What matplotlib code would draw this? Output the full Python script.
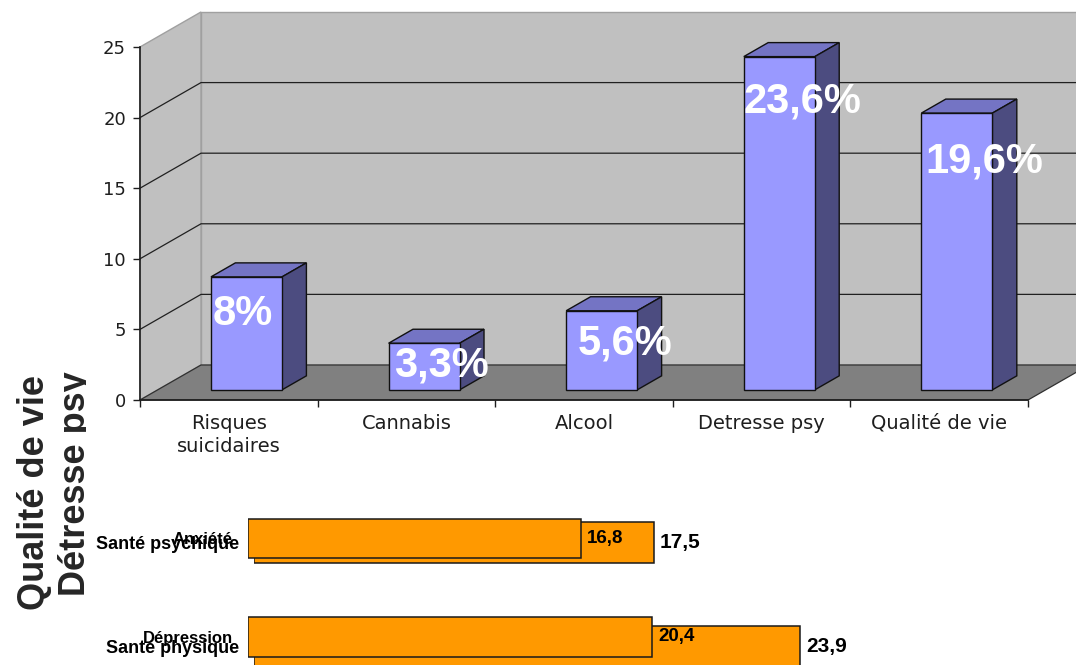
import matplotlib
matplotlib.use("Agg")
import matplotlib.pyplot as plt
from matplotlib.patches import Polygon, Rectangle
from matplotlib.transforms import Bbox

# upper chart: 3D columns
categories = ["Risques\nsuicidaires", "Cannabis", "Alcool", "Detresse psy", "Qualité de vie"]
values = [8, 3.3, 5.6, 23.6, 19.6]
y_ticks = [0, 5, 10, 15, 20, 25]

# lower chart, two overlapping bar layers
front_labels = ["Anxiété", "Dépression"]
front_values = [16.8, 20.4]
back_labels = ["Santé psychique", "Santé physique"]
back_values = [17.5, 23.9]

side_titles = ["Qualité de vie", "Détresse psy"]

W, H = 1076, 665
ARIAL = "Liberation Sans"
INK = "#1e1e1e"

# depth of the 3D box, in data units (x: categories, y: values)
DX, DY = 0.3435, 2.48
BW, Z0, Z1 = 0.4, 0.29, 0.69
# label nudges relative to the column top (category units, value units)
LAB_DX = [0.08, 0.20, 0.23, 0.23, 0.255]
LAB_DY = [-2.69, -1.67, -2.41, -3.27, -3.52]


def box(left, top, width, height):
    return [left / W, 1 - (top + height) / H, width / W, height / H]


def fr(v):
    return f"{v:g}".replace(".", ",")


fig = plt.figure(figsize=(W / 100, H / 100), dpi=100)
fig.patch.set_facecolor("white")

# ---- 3D column chart ----
ax = fig.add_axes(box(140, 47, 888, 353))
n = len(values)
ax.set_xlim(0, n)
ax.set_ylim(0, y_ticks[-1])
ax.set_facecolor("none")
for s in ("top", "right"):
    ax.spines[s].set_visible(False)
for s in ("left", "bottom"):
    ax.spines[s].set_color(INK)
    ax.spines[s].set_linewidth(1.2)
    ax.spines[s].set_zorder(2.5)

top = y_ticks[-1]
ax.add_patch(Rectangle((DX, DY), n, top, fc="#C0C0C0", ec="#A0A0A0", lw=1,
                       clip_on=False, zorder=0.2))
ax.add_patch(Polygon([(0, 0), (0, top), (DX, top + DY), (DX, DY)], closed=True,
                     fc="#C0C0C0", ec="#A0A0A0", lw=1, clip_on=False, zorder=0.3))
ax.add_patch(Polygon([(0, 0), (n, 0), (n + DX, DY), (DX, DY)], closed=True,
                     fc="#808080", ec="#303030", lw=0.9, clip_on=False, zorder=0.4))
for t in y_ticks[1:-1]:
    ax.plot([0, DX, n + DX], [t, t + DY, t + DY], color="#202020", lw=0.9,
            clip_on=False, zorder=1)

for i, v in enumerate(values):
    x0 = i + 0.5 - BW / 2
    x1 = x0 + BW
    ax.add_patch(Polygon([(x0 + Z0 * DX, v + Z0 * DY), (x1 + Z0 * DX, v + Z0 * DY),
                          (x1 + Z1 * DX, v + Z1 * DY), (x0 + Z1 * DX, v + Z1 * DY)],
                         closed=True, fc="#7474C4", ec="#111111", lw=1, zorder=3,
                         clip_on=False))
    ax.add_patch(Polygon([(x1 + Z0 * DX, Z0 * DY), (x1 + Z1 * DX, Z1 * DY),
                          (x1 + Z1 * DX, v + Z1 * DY), (x1 + Z0 * DX, v + Z0 * DY)],
                         closed=True, fc="#4C4C80", ec="#111111", lw=1, zorder=3,
                         clip_on=False))
    ax.add_patch(Rectangle((x0 + Z0 * DX, Z0 * DY), BW, v, fc="#9999FF",
                           ec="#111111", lw=1, zorder=3.1, clip_on=False))
    ax.text(i + 0.5 + LAB_DX[i], v + LAB_DY[i], fr(v) + "%", ha="center",
            va="baseline", color="white", fontsize=30, fontweight="bold",
            family=ARIAL, zorder=4, clip_on=False)

ax.set_yticks(y_ticks)
ax.tick_params(axis="y", direction="out", length=5, width=1, pad=5,
               labelsize=13, colors=INK)
ax.set_xticks(range(n + 1))
ax.set_xticklabels([])
ax.set_xticks([i + 0.5 for i in range(n)], minor=True)
ax.set_xticklabels(categories, minor=True, linespacing=1.25)
ax.tick_params(axis="x", which="major", direction="out", length=5, width=1,
               colors=INK)
ax.tick_params(axis="x", which="minor", length=0, pad=10, labelsize=14,
               labelcolor=INK)

# ---- lower horizontal bars: back layer then front layer ----
layers = [
    (box(254, 490.5, 571, 208), back_labels, back_values, 0.394, 13, 15),
    (box(248, 489.25, 495, 197), front_labels, front_values, 0.405, 12, 13.5),
]
for pos, labels, vals, height, cat_fs, val_fs in layers:
    bx = fig.add_axes(pos)
    bx.set_facecolor("none")
    ys = list(range(len(vals)))
    bx.barh(ys, vals, height=height, color="#FF9900", edgecolor="#1a1a1a", lw=1.1)
    bx.set_xlim(0, 25)
    bx.set_ylim(len(vals) - 0.5, -0.5)
    for s in bx.spines.values():
        s.set_visible(False)
    bx.set_xticks([])
    bx.set_yticks(ys)
    bx.set_yticklabels(labels, fontsize=cat_fs, fontweight="bold", family=ARIAL)
    bx.tick_params(axis="y", length=0, pad=10.8, labelcolor="black")
    for y, v in zip(ys, vals):
        bx.annotate(fr(v), (v, y), xytext=(6, 0), textcoords="offset pixels",
                    ha="left", va="center", fontsize=val_fs, fontweight="bold",
                    family=ARIAL, color="black", annotation_clip=False)

# ---- rotated side titles ----
fig.text(44 / W, 1 - 492 / H, side_titles[0], rotation=90, rotation_mode="anchor",
         ha="center", va="baseline", fontsize=26, fontweight="bold",
         family=ARIAL, color="#262626")
t2 = fig.text(85 / W, 1 - 483.5 / H, side_titles[1], rotation=90,
              rotation_mode="anchor", ha="center", va="baseline", fontsize=26,
              fontweight="bold", family=ARIAL, color="#262626")
t2.set_clip_box(Bbox([[0, 0], [86, H]]))
t2.set_clip_on(True)

fig.savefig("out.png", dpi=100)
